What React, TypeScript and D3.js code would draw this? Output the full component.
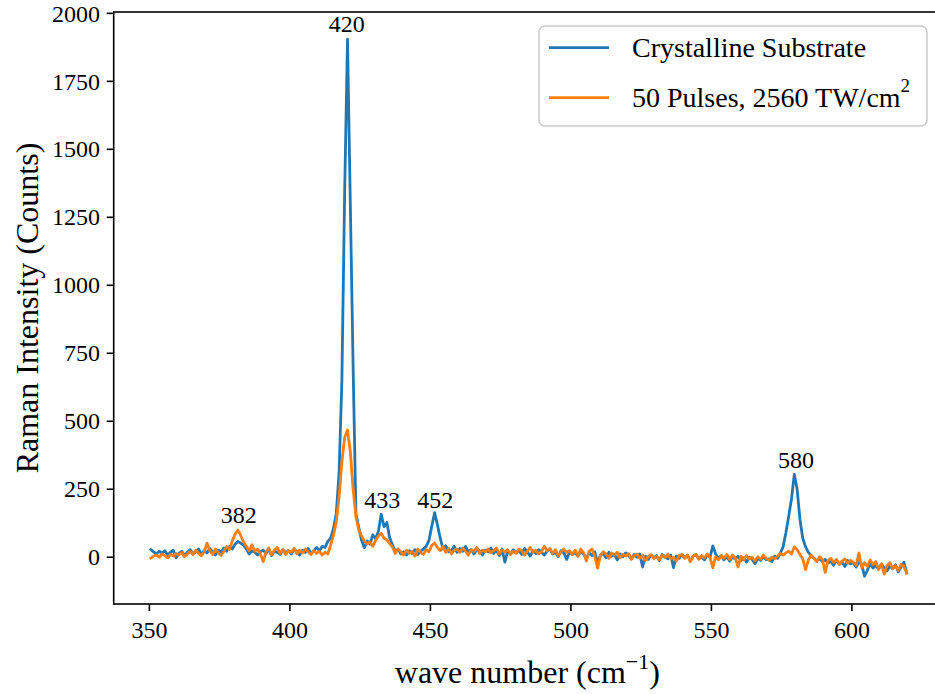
import React from 'react';
import * as d3 from 'd3';

// Raman spectra sampled on a regular wavenumber grid (cm^-1)
const wavenumberStart = 350.5;
const wavenumberStep = 1;

const crystalline = [
  28, 20, 12, 22, 15, 24, 8, 18, 26, -2,
  14, 22, 6, 18, 28, 12, 20, 30, 10, 24,
  16, 32, 20, 8, 26, 18, 34, 22, 40, 30,
  48, 58, 52, 44, 30, 12, 24, 18, 8, 20,
  26, 14, 30, 6, 22, 18, 10, 28, 16, 24,
  12, 30, 20, 8, 26, 18, 32, 14, 24, 36,
  24, 40, 36, 58, 70, 105, 160, 310, 650, 1350,
  1905, 1300, 700, 160, 110, 62, 35, 60, 48, 82,
  68, 96, 158, 112, 128, 72, 46, 22, 30, 12,
  20, 8, 24, 14, 28, 10, 22, 30, 40, 62,
  115, 164, 120, 70, 30, 42, 20, 26, 40, 18,
  32, 22, 40, 18, 28, 12, 30, 24, 8, 26,
  20, 34, 14, 26, 6, 30, -18, 22, 12, 28,
  16, 26, 10, 32, 20, 4, 24, 14, 28, 18,
  8, 22, 30, 12, 18, 2, 24, 16, -8, 20,
  10, 18, 4, 22, 12, -4, 16, 6, 20, -20,
  8, 14, -2, 18, 4, 10, -10, 12, 2, 16,
  6, -6, 10, 0, 12, -36, 4, -8, 8, -2,
  6, -12, 10, 2, -6, 8, -38, 4, -4, 10,
  -2, 6, -14, 4, 10, -6, 2, -10, 8, 0,
  42, 12, -4, 6, -10, 2, -14, 0, -6, 4,
  -12, -2, -18, 0, -8, -24, -4, -12, 2, -10,
  -6, -16, 4, -4, 14, 38, 90, 150, 215, 305,
  250, 140, 70, 38, 18, 6, -4, -12, -6, -16,
  -8, -22, -14, -30, -10, -26, -18, -34, -12, -24,
  -20, -36, -16, -28, -70, -48, -22, -40, -30, -44,
  -26, -38, -50, -32, -42, -28, -54, -36, -18, -58,
];

const pulses = [
  -3, 4, 8, 0, 12, 6, -2, 10, 4, 14,
  8, 18, 2, 12, 22, 10, 26, 14, 6, 20,
  52, 24, 10, 30, 16, 6, 22, 40, 28, 60,
  85, 100, 80, 56, 40, 24, 46, 22, 30, 12,
  -16, 20, 34, 8, 26, 36, 14, 28, 10, 24,
  18, 32, 12, 26, 16, 30, 20, 10, 24, 14,
  22, 8, 18, 12, 45, 80, 130, 220, 350, 440,
  468, 390, 250, 150, 100, 78, 60, 50, 56, 40,
  62, 78, 88, 70, 64, 50, 38, 14, 30, 20,
  8, 26, 14, 22, 4, 30, 18, 10, 28, 20,
  44, 52, 36, 24, 40, 18, 32, 12, 26, 30,
  18, 34, 22, 8, 28, 20, 36, 14, 26, 20,
  30, 16, 24, 34, 12, 26, 18, 28, 10, 22,
  14, 30, 24, 8, 22, 36, 18, 26, 12, 20,
  40, 24, 32, 14, 28, 6, 20, 30, 18, 24,
  10, 26, 4, 30, 16, -14, 22, 30, 2, -40,
  6, 20, 12, -4, 16, 8, 18, -2, 10, 4,
  14, -8, 6, 12, -4, 8, -12, 2, 10, -6,
  4, -10, 8, -2, 12, -6, 0, -14, 6, 10,
  -4, 8, -16, 4, 10, -8, 6, -2, 12, 0,
  -38, 2, -10, 6, -4, 10, -8, 8, -2, -36,
  4, -10, 6, -6, 0, -14, 2, -8, 8, -4,
  -12, 0, -6, 4, 14, 8, 16, 22, 12, 38,
  28, 10, -6, -46, -10, 8, -4, -16, 2, -8,
  -56, -12, -4, -20, -8, -26, -14, -6, -22, -12,
  -18, -30, 16, -40, -20, -34, -10, -28, -16, -44,
  -24, -62, -30, -20, -42, -30, -48, -26, -34, -58,
];

const xTicks = [350, 400, 450, 500, 550, 600];
const yTicks = [0, 250, 500, 750, 1000, 1250, 1500, 1750, 2000];

const peakLabels = ['382', '420', '433', '452', '580'];
const peakX = [381.8, 420.2, 432.9, 451.7, 580.1];
const peakY = [127, 1932, 180, 180, 327];

const seriesNames = ['Crystalline Substrate', '50 Pulses, 2560 TW/cm'];
const seriesColors = ['#1f77b4', '#ff7f0e'];

const W = 935;
const H = 694;
const LEFT = 113.7;
const RIGHT = 941;
const TOP = 12;
const BOTTOM = 604;
const FONT = "'Liberation Serif', 'Times New Roman', 'DejaVu Serif', serif";

export default function App() {
  const x = d3.scaleLinear().domain([337.3, 631.7]).range([LEFT, RIGHT]);
  const y = d3.scaleLinear().domain([-172, 2005]).range([BOTTOM, TOP]);
  const line = d3
    .line<number>()
    .x((_, i) => x(wavenumberStart + i * wavenumberStep))
    .y((d) => y(d));
  const series = [crystalline, pulses];

  return (
    <svg
      width={W}
      height={H}
      viewBox={`0 0 ${W} ${H}`}
      style={{ position: 'absolute', left: 0, top: 0, background: '#fff' }}
      fontFamily={FONT}
    >
      <defs>
        <clipPath id="plot">
          <rect x={LEFT} y={TOP} width={RIGHT - LEFT} height={BOTTOM - TOP} />
        </clipPath>
      </defs>
      <rect x={0} y={0} width={W} height={H} fill="#fff" />

      <g clipPath="url(#plot)">
        {series.map((s, k) => (
          <path
            key={k}
            d={line(s) || ''}
            fill="none"
            stroke={seriesColors[k]}
            strokeWidth={2.8}
            strokeLinejoin="round"
            strokeLinecap="square"
          />
        ))}
      </g>

      {peakLabels.map((t, i) => (
        <text key={t} x={x(peakX[i])} y={y(peakY[i])} fontSize={24} textAnchor="middle" fill="#000">
          {t}
        </text>
      ))}

      {/* frame */}
      <rect x={LEFT} y={TOP} width={RIGHT - LEFT} height={BOTTOM - TOP} fill="none" stroke="#000" strokeWidth={1.6} />

      {/* x axis */}
      {xTicks.map((t) => (
        <g key={t}>
          <line x1={x(t)} x2={x(t)} y1={BOTTOM} y2={BOTTOM + 7} stroke="#000" strokeWidth={1.6} />
          <text x={x(t)} y={638} fontSize={24} textAnchor="middle" fill="#000">
            {t}
          </text>
        </g>
      ))}
      {/* y axis */}
      {yTicks.map((t) => (
        <g key={t}>
          <line x1={LEFT - 7} x2={LEFT} y1={y(t)} y2={y(t)} stroke="#000" strokeWidth={1.6} />
          <text x={100} y={y(t)} dy="0.34em" fontSize={24} textAnchor="end" fill="#000">
            {t}
          </text>
        </g>
      ))}

      <text x={(LEFT + RIGHT) / 2} y={683} fontSize={32} textAnchor="middle" fill="#000">
        wave number (cm
        <tspan fontSize={22} dy={-14}>
          −1
        </tspan>
        <tspan fontSize={32} dy={14}>
          )
        </tspan>
      </text>
      <text
        transform={`translate(38, ${(TOP + BOTTOM) / 2}) rotate(-90)`}
        fontSize={32}
        textAnchor="middle"
        fill="#000"
      >
        Raman Intensity (Counts)
      </text>

      {/* legend */}
      <g>
        <rect x={539} y={26} width={388} height={100} rx={6} ry={6} fill="#fff" fillOpacity={0.8} stroke="#cccccc" strokeWidth={1.6} />
        {seriesNames.map((n, i) => (
          <g key={n}>
            <line x1={549} x2={609} y1={47.7 + i * 50} y2={47.7 + i * 50} stroke={seriesColors[i]} strokeWidth={2.8} />
            <text x={632} y={57 + i * 50} fontSize={28} fill="#000">
              {n}
              {i === 1 ? (
                <tspan fontSize={19} dy={-15}>
                  2
                </tspan>
              ) : null}
            </text>
          </g>
        ))}
      </g>
    </svg>
  );
}
